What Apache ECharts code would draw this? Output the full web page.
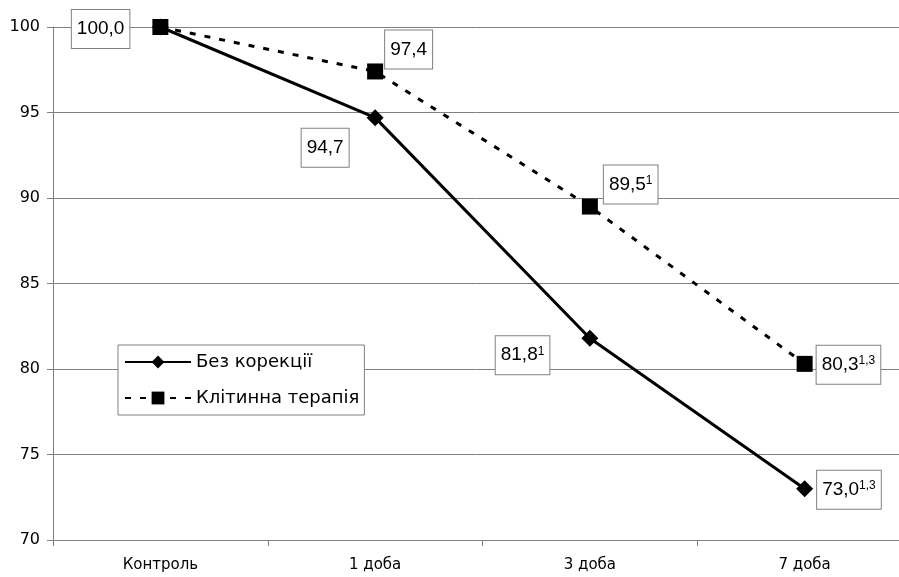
<!DOCTYPE html>
<html>
<head>
<meta charset="utf-8">
<script src="https://cdn.jsdelivr.net/npm/echarts@6/dist/echarts.min.js"></script>
<style>
  html, body { margin: 0; padding: 0; background: #fff; }
  #chart { width: 899px; height: 577px; }
</style>
</head>
<body>
<div id="chart"></div>
<script>
// data
const categories = ['Контроль', '1 доба', '3 доба', '7 доба'];
const noCorrection = [100.0, 94.7, 81.8, 73.0];
const cellTherapy = [100.0, 97.4, 89.5, 80.3];
const noCorrectionText = ['100,0', '94,7', '81,8', '73,0'];
const noCorrectionSup = ['', '', '1', '1,3'];
const cellTherapyText = ['100,0', '97,4', '89,5', '80,3'];
const cellTherapySup = ['', '', '1', '1,3'];

const FONT = 'Arial, "Liberation Sans", sans-serif';
const AXIS_FONT = '"DejaVu Sans", sans-serif';

// label placement per point (left/right of marker + vertical shift)
const noCorrLabelPos = [
  null,
  { position: 'left', distance: 18, offset: [0, 30] },
  { position: 'left', distance: 32, offset: [0, 17] },
  { position: 'right', distance: 4, offset: [0, 1] },
];
const cellLabelPos = [
  { position: 'left', distance: 23, offset: [0, 2] },
  { position: 'right', distance: 2, offset: [0, -22] },
  { position: 'right', distance: 6, offset: [0, -22] },
  { position: 'right', distance: 4, offset: [0, 1] },
];

const boxLabel = {
  show: true,
  color: '#000',
  fontFamily: FONT,
  backgroundColor: '#fff',
  borderColor: '#808080',
  borderWidth: 1,
  padding: [9, 5, 9, 5],
  rich: {
    v: { fontSize: 19, fontFamily: FONT, color: '#000', lineHeight: 20 },
    s: { fontSize: 12, fontFamily: FONT, color: '#000', lineHeight: 20, verticalAlign: 'top', padding: [0, 0, 7, 0] },
  },
};

function labelText(txt, sup) {
  return sup ? '{v|' + txt + '}{s|' + sup + '}' : '{v|' + txt + '}';
}

function buildData(values, texts, sups, pos) {
  return values.map((v, i) => {
    const p = pos[i];
    if (!p) return { value: v, label: { show: false } };
    return {
      value: v,
      label: Object.assign({}, boxLabel, p, { formatter: labelText(texts[i], sups[i]) }),
    };
  });
}

const chart = echarts.init(document.getElementById('chart'), null, { renderer: 'canvas' });

chart.setOption({
  backgroundColor: '#fff',
  animation: false,
  textStyle: { fontFamily: FONT },
  legend: {
    orient: 'vertical',
    left: 118,
    top: 345,
    backgroundColor: '#fff',
    borderColor: '#808080',
    borderWidth: 1,
    padding: [8, 5, 8, 6],
    itemWidth: 66,
    itemHeight: 16,
    itemGap: 18,
    textStyle: { fontSize: 18, color: '#000', fontFamily: AXIS_FONT, padding: [0, 0, 0, 0] },
    data: ['Без корекції', 'Клітинна терапія'],
  },
  grid: { left: 53, top: 27, right: -13, height: 513, outerBoundsMode: 'none', containLabel: false },
  xAxis: {
    type: 'category',
    data: categories,
    boundaryGap: true,
    axisLine: { lineStyle: { color: '#808080', width: 1 } },
    axisTick: { show: true, length: 6, lineStyle: { color: '#808080' } },
    axisLabel: { color: '#000', fontSize: 15, fontFamily: AXIS_FONT, margin: 18 },
    splitLine: { show: false },
  },
  yAxis: {
    type: 'value',
    min: 70,
    max: 100,
    interval: 5,
    axisLine: { show: true, lineStyle: { color: '#808080', width: 1 } },
    axisTick: { show: true, length: 6, lineStyle: { color: '#808080' } },
    axisLabel: { color: '#000', fontSize: 16, fontFamily: AXIS_FONT, margin: 13 },
    splitLine: { show: true, lineStyle: { color: '#808080', width: 1 } },
  },
  series: [
    {
      name: 'Без корекції',
      type: 'line',
      data: buildData(noCorrection, noCorrectionText, noCorrectionSup, noCorrLabelPos),
      symbol: 'diamond',
      symbolSize: 17,
      itemStyle: { color: '#000' },
      lineStyle: { color: '#000', width: 3 },
      z: 3,
    },
    {
      name: 'Клітинна терапія',
      type: 'line',
      data: buildData(cellTherapy, cellTherapyText, cellTherapySup, cellLabelPos),
      symbol: 'rect',
      symbolSize: 16,
      itemStyle: { color: '#000' },
      lineStyle: { color: '#000', width: 3, type: [6, 9] },
      z: 4,
    },
  ],
});
</script>
</body>
</html>
